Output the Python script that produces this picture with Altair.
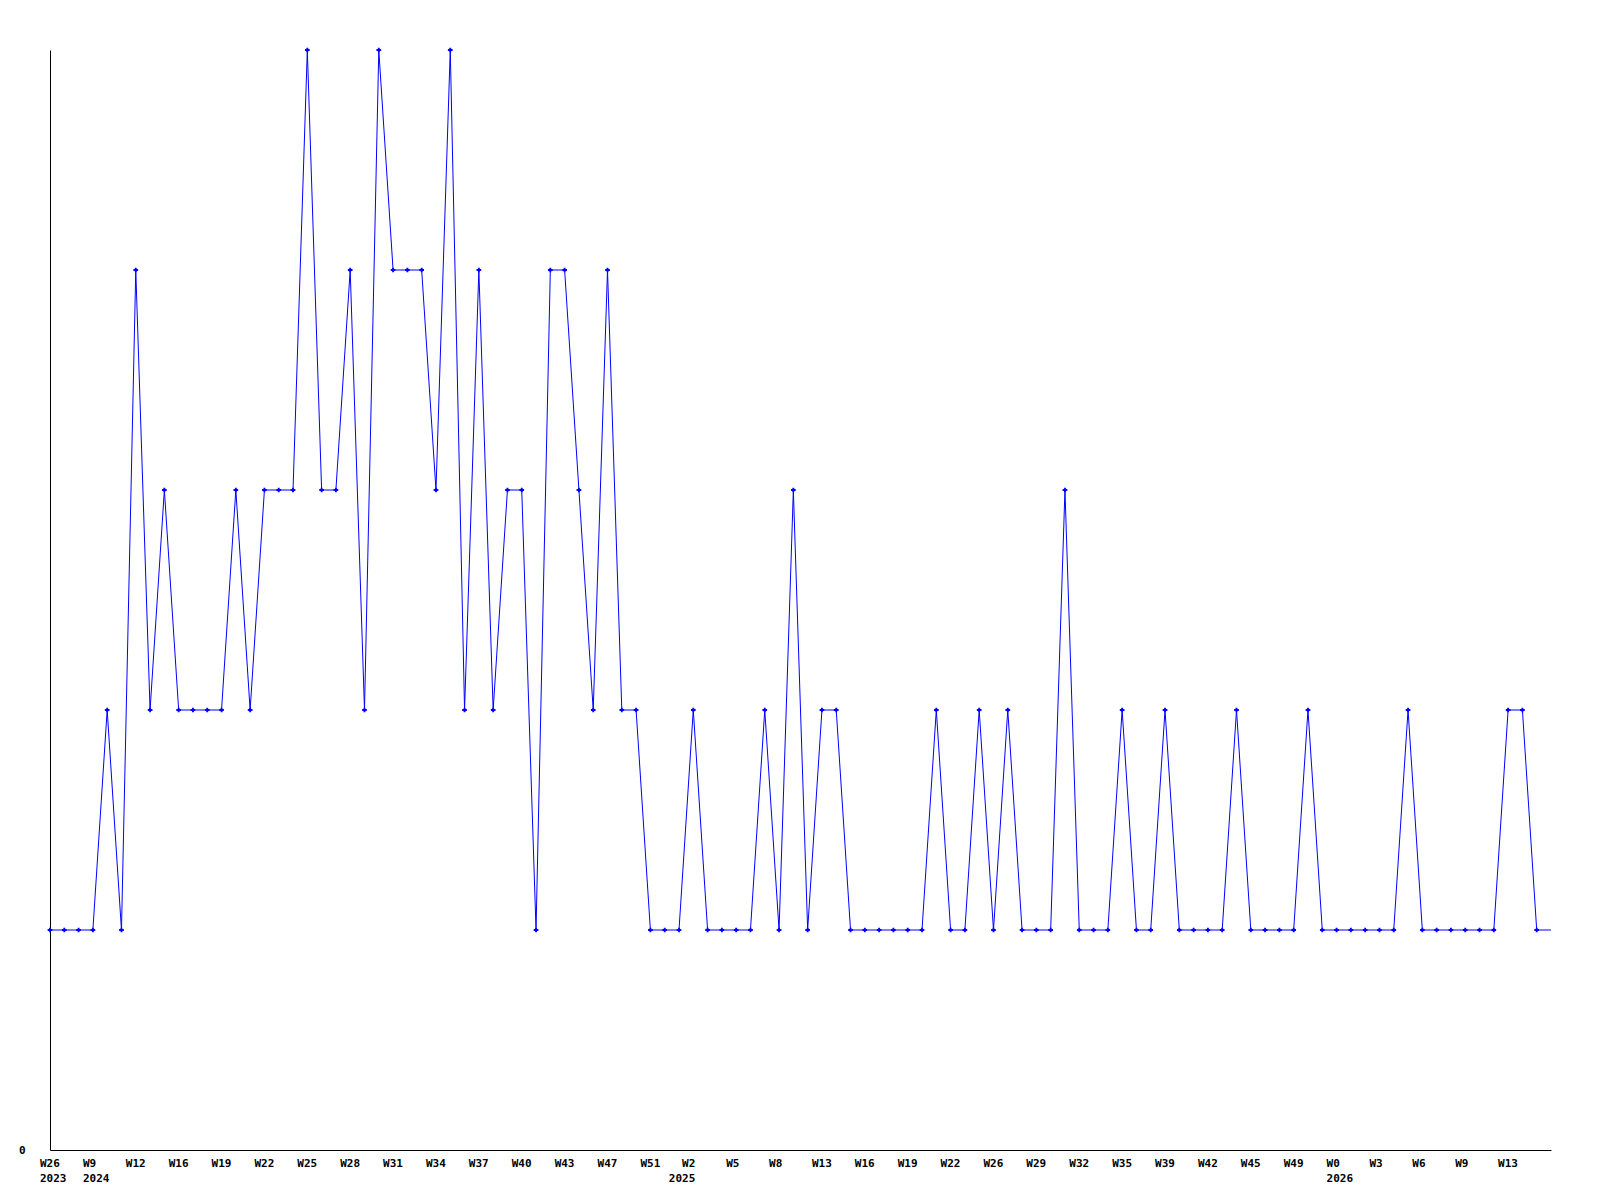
import altair as alt
import pandas as pd

# weekly values (one per week, index 0..105); last week has no marker
values = (
    [1, 1, 1, 1, 2, 1, 4, 2, 3, 2, 2, 2, 2, 3, 2, 3, 3, 3, 5, 3, 3, 4, 2, 5,
     4, 4, 4, 3, 5, 2, 4, 2, 3, 3, 1, 4, 4, 3, 2, 4, 2, 2, 1, 1, 1, 2, 1, 1,
     1, 1, 2, 1, 3, 1, 2, 2, 1, 1, 1, 1, 1, 1, 2, 1, 1, 2, 1, 2, 1, 1, 1, 3,
     1, 1, 1, 2, 1, 1, 2, 1, 1, 1, 1, 2, 1, 1, 1, 1, 2, 1, 1, 1, 1, 1, 1, 2,
     1, 1, 1, 1, 1, 1, 2, 2, 1, 1]
)
assert len(values) == 106

# tick labels, one every 3 weeks
week_labels = ["W26", "W9", "W12", "W16", "W19", "W22", "W25", "W28", "W31",
               "W34", "W37", "W40", "W43", "W47", "W51", "W2", "W5", "W8",
               "W13", "W16", "W19", "W22", "W26", "W29", "W32", "W35", "W39",
               "W42", "W45", "W49", "W0", "W3", "W6", "W9", "W13"]
year_labels = {0: "2023", 1: "2024", 15: "2025", 30: "2026"}

df = pd.DataFrame({
    "week": list(range(len(values))),
    "value": values,
    "marker": [1] * (len(values) - 1) + [0],
})

parts = []
for i, w in enumerate(week_labels):
    if i in year_labels:
        parts.append("['%s','%s']" % (w, year_labels[i]))
    else:
        parts.append("'%s'" % w)
label_expr = "[" + ",".join(parts) + "][round(datum.value/3)]"

FONT = "DejaVu Sans Mono"
BLUE = "#0000ff"

x = alt.X(
    "week:Q",
    scale=alt.Scale(domain=[0, 105], nice=False, zero=False),
    axis=alt.Axis(
        title=None, values=list(range(0, 103, 3)), labelExpr=label_expr,
        ticks=False, grid=False, domain=True, domainColor="black", domainWidth=1,
        labelAlign={"condition": {"test": "datum.value == 45", "value": "right"}, "value": "left"},
        labelOffset={"condition": {"test": "datum.value == 45", "value": 1.5}, "value": -10.5},
        labelBaseline="top", labelPadding=7,
        labelFont=FONT, labelFontWeight="bold", labelFontSize=11,
        labelLineHeight=15, labelColor="black", labelOverlap=False,
        labelFlush=False, labelBound=False,
    ),
)
y = alt.Y(
    "value:Q",
    scale=alt.Scale(domain=[0, 5], nice=False, zero=True),
    axis=alt.Axis(
        title=None, values=[0], ticks=False, grid=False, domain=True,
        domainColor="black", domainWidth=1, labelPadding=25,
        labelFont=FONT, labelFontWeight="bold", labelFontSize=11,
        labelColor="black", labelBaseline="middle",
    ),
)

line = alt.Chart(df).mark_line(color=BLUE, strokeWidth=1, interpolate="linear").encode(x=x, y=y)
pts = alt.Chart(df).transform_filter("datum.marker == 1").mark_point(
    shape="cross", filled=True, color=BLUE, size=22, opacity=1
).encode(x=x, y=y)

chart = alt.layer(line, pts).properties(
    width=1501, height=1100,
    autosize=alt.AutoSizeParams(type="none"),
    padding={"left": 42, "top": 42, "right": 40, "bottom": 45},
    background="white",
).configure_view(stroke=None)

chart.save("out.html", embed_options={"renderer": "svg", "actions": False})
